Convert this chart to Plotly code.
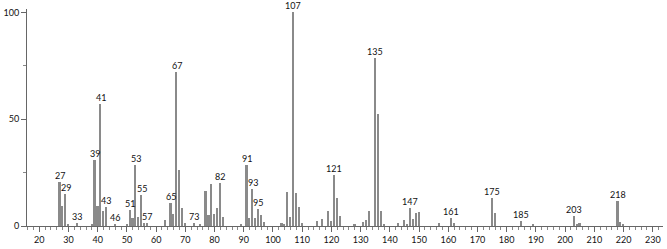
import plotly.graph_objects as go

mz = [27, 28, 29, 30, 33, 38, 39, 40, 41, 42, 43, 46, 50, 51, 52, 53, 54, 55, 56, 57,
      63, 65, 66, 67, 68, 69, 70, 73, 75, 77, 78, 79, 80, 81, 82, 83, 89, 91, 92, 93,
      94, 95, 96, 97, 103, 104, 105, 106, 107, 108, 109, 110, 115, 117, 119, 120, 121,
      122, 123, 128, 131, 132, 133, 135, 136, 137, 138, 143, 145, 146, 147, 148, 149,
      150, 157, 161, 162, 175, 176, 185, 189, 203, 204, 205, 218, 219, 220]
intensity = [20.4, 9.5, 14.8, 1.0, 1.3, 1.0, 30.8, 9.5, 57.3, 7.2, 9.0, 1.0, 1.0, 7.5, 3.9,
             28.7, 4.2, 14.3, 1.2, 1.2, 3.0, 11.0, 5.8, 72.0, 26.4, 8.3, 1.5, 1.3, 1.0,
             16.6, 5.2, 19.5, 5.7, 8.3, 20.1, 4.0, 0.8, 28.7, 3.9, 17.3, 3.9, 7.8, 5.2,
             1.8, 1.5, 0.8, 16.0, 4.0, 100.0, 15.5, 9.0, 1.5, 2.4, 3.3, 6.9, 2.4, 23.9,
             13.3, 4.8, 1.0, 2.0, 2.8, 7.2, 78.5, 52.6, 6.9, 1.0, 1.5, 2.8, 1.0, 8.4, 3.3,
             6.3, 6.5, 1.2, 3.9, 1.5, 13.0, 6.1, 2.4, 0.8, 4.5, 1.0, 1.3, 11.5, 1.9, 0.5]
labeled = [27, 29, 33, 39, 41, 43, 46, 51, 53, 55, 57, 65, 67, 73, 82, 91, 93, 95, 107,
           121, 135, 147, 161, 175, 185, 203, 218]

x_ticks = list(range(20, 240, 10))
y_ticks = [0, 50, 100]

FONT = "Lato"
GRAY = "#8a8a8a"

fig = go.Figure()
fig.add_trace(go.Bar(x=mz, y=intensity, width=0.55,
                     marker=dict(color=GRAY, line=dict(width=0)),
                     hoverinfo="x+y"))

lookup = dict(zip(mz, intensity))
for m in labeled:
    fig.add_annotation(x=m, y=lookup[m], text=str(m), showarrow=False,
                       yanchor="bottom", xanchor="center", yshift=0, borderpad=0,
                       font=dict(family=FONT, size=9, color="#111111"))

fig.update_layout(
    width=667, height=249,
    margin=dict(l=25, r=4, t=9, b=17),
    paper_bgcolor="white", plot_bgcolor="white",
    showlegend=False, bargap=0,
    font=dict(family=FONT, size=9, color="#111111"),
    xaxis=dict(range=[15.8, 233.5], tickvals=x_ticks, ticks="outside", ticklen=5,
               tickcolor="#666666", showline=True, linecolor="#666666", linewidth=1,
               showgrid=False, zeroline=False,
               minor=dict(dtick=2, tick0=0, ticks="outside", ticklen=3,
                          tickcolor="#888888", showgrid=False),
               tickfont=dict(family=FONT, size=9)),
    yaxis=dict(range=[0, 101.6], tickvals=y_ticks, ticks="outside", ticklen=5,
               tickcolor="#666666", showline=True, linecolor="#666666", linewidth=1,
               showgrid=False, zeroline=False,
               minor=dict(tickvals=[25, 75], ticks="outside", ticklen=3,
                          tickcolor="#888888", showgrid=False),
               tickfont=dict(family=FONT, size=9)),
)

fig.write_html("out.html")
